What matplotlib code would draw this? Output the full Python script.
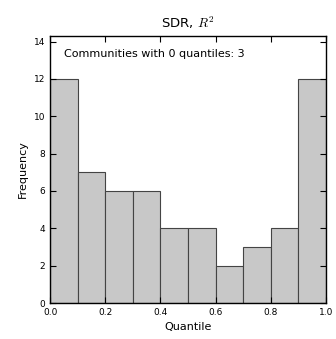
import numpy
import matplotlib
matplotlib.use('Agg')
import matplotlib.pyplot as plt

plt.rcParams['mathtext.fontset'] = 'cm'

# histogram of quantiles
bin_edges = [0.0, 0.1, 0.2, 0.3, 0.4, 0.5, 0.6, 0.7, 0.8, 0.9, 1.0]
counts = [12, 7, 6, 6, 4, 4, 2, 3, 4, 12]
n_zero = 3

fig = plt.figure(figsize=(3.36, 3.39), dpi=100)
ax = fig.add_axes([0.149, 0.106, 0.821, 0.788])

centers = [(bin_edges[i] + bin_edges[i+1]) / 2 for i in range(len(counts))]
ax.hist(centers, bins=bin_edges, weights=counts, color='#c8c8c8',
        edgecolor='#444444', linewidth=0.8, alpha=1.0)

ax.set_xlim(0, 1)
ax.set_ylim(0, 14.3)
ax.set_xticks(numpy.arange(0, 1.01, 0.2))
ax.set_yticks(numpy.arange(0, 15, 2))
ax.tick_params(direction='in', top=True, right=True, labelsize=6.5, length=4, width=0.8)
for s in ax.spines.values():
    s.set_linewidth(1.0)

ax.set_xlabel('Quantile', fontsize=8)
ax.set_ylabel('Frequency', fontsize=8)
ax.set_title('SDR, $R^2$', fontsize=9.5)
ax.text(0.05, 0.95, 'Communities with 0 quantiles: %d' % n_zero,
        transform=ax.transAxes, fontsize=8, va='top', ha='left')

plt.savefig('out.png', dpi=100)
